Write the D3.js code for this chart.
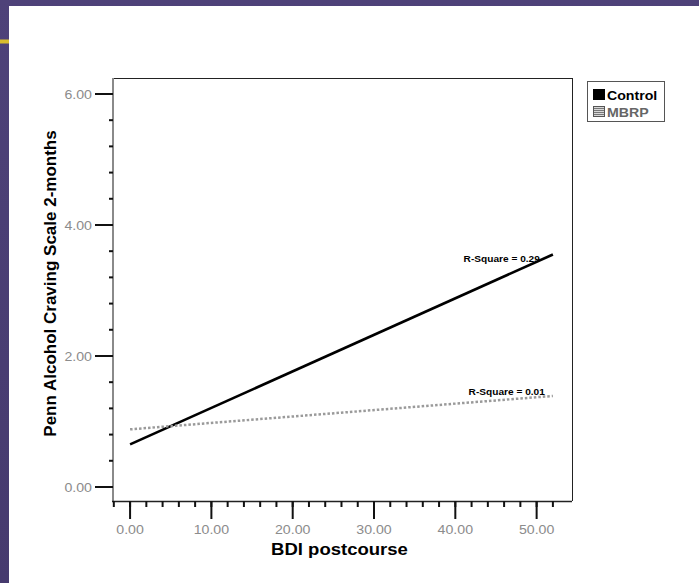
<!DOCTYPE html>
<html><head><meta charset="utf-8">
<script src="https://cdn.jsdelivr.net/npm/d3@7"></script>
<style>html,body{margin:0;padding:0;background:#4b3f74;}svg{display:block;}</style>
</head><body>
<script>
// Data
const seriesNames = ["Control", "MBRP"];
const xStart = [0, 0];
const xEnd = [52, 52];
const yStart = [0.65, 0.88];
const yEnd = [3.55, 1.39];
const rSquareLabels = ["R-Square = 0.29", "R-Square = 0.01"];
const yTickValues = [0, 2, 4, 6];
const xTickValues = [0, 10, 20, 30, 40, 50];
const xTitle = "BDI postcourse";
const yTitle = "Penn Alcohol Craving Scale 2-months";

const W = 699, H = 583;
const FONT = "Liberation Sans, Arial, sans-serif";
const SX = 1.09; // horizontal stretch of the original image's text
const svg = d3.select("body").append("svg").attr("width", W).attr("height", H);

// helper: horizontally stretched text
function htext(parent, tx, ty, str, opts) {
  const g = parent.append("g").attr("transform", `translate(${tx},${ty}) scale(${SX},1)`);
  const t = g.append("text").attr("x",0).attr("y",0)
    .attr("font-family", FONT).attr("font-size", opts.size)
    .attr("font-weight", opts.weight || "normal")
    .attr("fill", opts.fill || "#000")
    .attr("text-anchor", opts.anchor || "start")
    .text(str);
  if (opts.dy) t.attr("dy", opts.dy);
  return g;
}

// background: purple slide, white panel
const defs = svg.append("defs");
const grad = defs.append("linearGradient").attr("id","bg").attr("x1","0").attr("y1","0").attr("x2","0").attr("y2","1");
grad.append("stop").attr("offset","0").attr("stop-color","#4e4279");
grad.append("stop").attr("offset","1").attr("stop-color","#463a6e");
svg.append("rect").attr("width",W).attr("height",H).attr("fill","url(#bg)");
svg.append("rect").attr("x",9).attr("y",6).attr("width",W-9).attr("height",H-6).attr("fill","#fff");
svg.append("rect").attr("x",0).attr("y",39.5).attr("width",9).attr("height",4).attr("fill","#d9bd2c");

const pL = 113, pR = 572, pT = 78, pB = 501;
const x = d3.scaleLinear().domain([-2.1, 54.35]).range([pL, pR]);
const y = d3.scaleLinear().domain([-0.214, 6.244]).range([pB, pT]);

// frame top/right
svg.append("line").attr("x1",pL).attr("x2",pR).attr("y1",pT+0.5).attr("y2",pT+0.5).attr("stroke","#222").attr("stroke-width",1);
svg.append("line").attr("x1",pR+0.5).attr("x2",pR+0.5).attr("y1",pT).attr("y2",pB).attr("stroke","#222").attr("stroke-width",1);

// y axis
const yMinor = d3.range(0, 6.01, 0.4).map(v => +v.toFixed(2));
const yAx = svg.append("g").attr("transform", `translate(${pL},0)`);
yAx.append("line").attr("x1",0).attr("x2",0).attr("y1",pT).attr("y2",pB).attr("stroke","#8a8a8a").attr("stroke-width",2);
yAx.selectAll("line.minor").data(yMinor).join("line").attr("class","minor")
  .attr("x1",-4).attr("x2",0).attr("y1",d=>y(d)).attr("y2",d=>y(d)).attr("stroke","#111").attr("stroke-width",2);
yAx.selectAll("line.major").data(yTickValues).join("line").attr("class","major")
  .attr("x1",-18).attr("x2",0).attr("y1",d=>y(d)).attr("y2",d=>y(d)).attr("stroke","#111").attr("stroke-width",2);
yTickValues.forEach(v => htext(yAx, -21, y(v), d3.format(".2f")(v), {size:13, fill:"#8c8c8c", anchor:"end", dy:"0.36em"}));

// x axis
const xMinor = d3.range(-2, 53, 2);
const xAx = svg.append("g").attr("transform", `translate(0,${pB})`);
xAx.append("line").attr("x1",pL-1).attr("x2",pR).attr("y1",0.5).attr("y2",0.5).attr("stroke","#222").attr("stroke-width",1.5);
xAx.selectAll("line.minor").data(xMinor).join("line").attr("class","minor")
  .attr("x1",d=>x(d)).attr("x2",d=>x(d)).attr("y1",0).attr("y2",6).attr("stroke","#111").attr("stroke-width",2);
xAx.selectAll("line.major").data(xTickValues).join("line").attr("class","major")
  .attr("x1",d=>x(d)).attr("x2",d=>x(d)).attr("y1",0).attr("y2",18).attr("stroke","#111").attr("stroke-width",2);
xTickValues.forEach(v => htext(xAx, x(v), 33, d3.format(".2f")(v), {size:13, fill:"#8c8c8c", anchor:"middle"}));

// titles
htext(svg, (pL+pR)/2 - 3, 555, xTitle, {size:17, weight:"bold", anchor:"middle"});
svg.append("text").attr("transform",`translate(56,${(pT+pB)/2 - 6}) rotate(-90)`).attr("text-anchor","middle")
  .attr("font-family",FONT).attr("font-weight","bold").attr("font-size",17).attr("fill","#000")
  .text(yTitle);

// fit lines
const styles = [
  {stroke:"#000", dash:null, width:2.6},
  {stroke:"#9a9a9a", dash:"2.5,2", width:2.5}
];
seriesNames.forEach((name,i)=>{
  svg.append("line")
    .attr("x1",x(xStart[i])).attr("y1",y(yStart[i]))
    .attr("x2",x(xEnd[i])).attr("y2",y(yEnd[i]))
    .attr("stroke",styles[i].stroke).attr("stroke-width",styles[i].width)
    .attr("stroke-dasharray",styles[i].dash);
});
// R-square labels
const labelOffsets = [{dx:-13, dy:8}, {dx:-8, dy:-1}];
seriesNames.forEach((name,i)=>{
  htext(svg, x(xEnd[i]) + labelOffsets[i].dx, y(yEnd[i]) + labelOffsets[i].dy, rSquareLabels[i],
    {size:9.3, weight:"bold", anchor:"end"});
});

// legend
const lg = svg.append("g");
lg.append("rect").attr("x",587.5).attr("y",81.5).attr("width",77).attr("height",40)
  .attr("fill","#fff").attr("stroke","#555").attr("stroke-width",1);
const pat = defs.append("pattern").attr("id","stripe").attr("width",4).attr("height",2).attr("patternUnits","userSpaceOnUse");
pat.append("rect").attr("width",4).attr("height",2).attr("fill","#d8d8d8");
pat.append("rect").attr("width",4).attr("height",1).attr("fill","#777");
seriesNames.forEach((name,i)=>{
  const yy = 89 + i*17;
  lg.append("rect").attr("x",593.5).attr("y",yy+0.5).attr("width",11).attr("height",10)
    .attr("fill", i===0 ? "#000" : "url(#stripe)").attr("stroke", i===0 ? "#000" : "#555");
  htext(lg, 607, yy+10.5, name, {size:13, weight:"bold", fill: i===0 ? "#000" : "#666"});
});
</script>
</body></html>
